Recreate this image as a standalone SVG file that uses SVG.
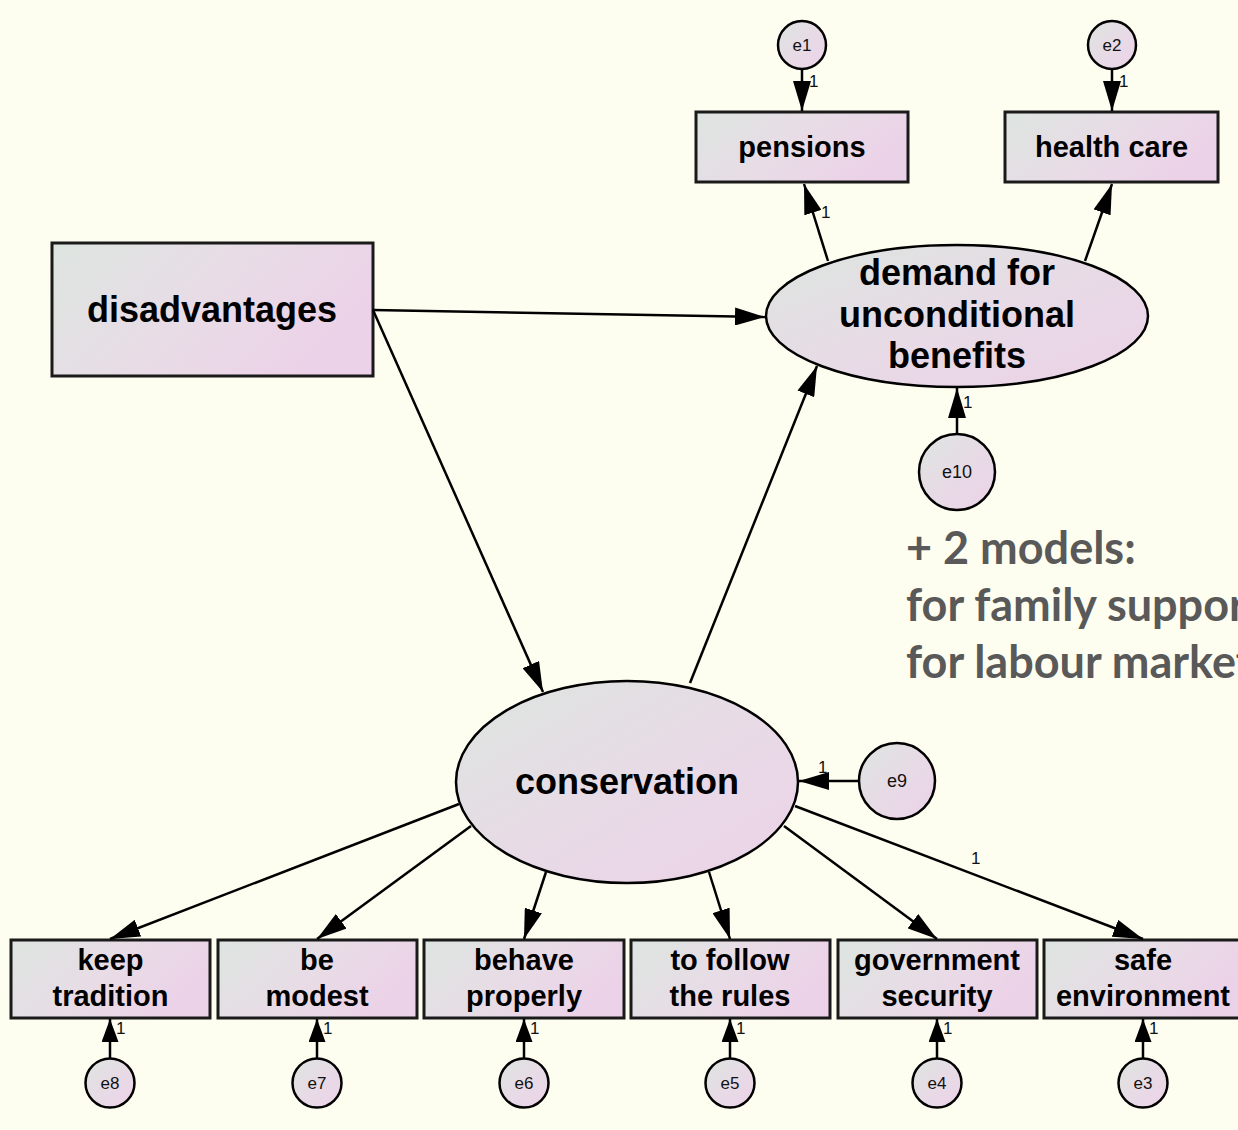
<svg xmlns="http://www.w3.org/2000/svg" width="1238" height="1130" viewBox="0 0 1238 1130">
  <style>
    .box { fill: url(#nodeFill); stroke: #1a1a1a; stroke-width: 3; }
    .lat { fill: url(#latFill); stroke: #000; stroke-width: 2.5; }
    .err { fill: url(#latFill); stroke: #000; stroke-width: 2.5; }
    .lbl { font-family: "Liberation Sans", Arial, sans-serif; font-weight: bold; fill: #000; text-anchor: middle; }
    .big { font-size: 36px; }
    .mid { font-size: 29px; }
    .elbl { font-family: "Liberation Sans", Arial, sans-serif; font-size: 17px; fill: #111; text-anchor: middle; }
    .one { font-family: "Liberation Sans", Arial, sans-serif; font-size: 17px; fill: #111; }
    .path { stroke: #000; stroke-width: 2.5; fill: none; marker-end: url(#head); }
    .short { stroke: #000; stroke-width: 2.5; fill: none; marker-end: url(#headS); }
    .note { font-family: Lato, "Open Sans", sans-serif; font-weight: bold; font-size: 45px; fill: #595959; }
  </style>
  <defs>
    <linearGradient id="nodeFill" x1="0" y1="0" x2="1" y2="0.4">
      <stop offset="0" stop-color="#DDE5E0"/>
      <stop offset="0.55" stop-color="#E8DCE6"/>
      <stop offset="1" stop-color="#ECD2E8"/>
    </linearGradient>
    <linearGradient id="latFill" x1="0" y1="0" x2="1" y2="1">
      <stop offset="0" stop-color="#DDE5E0"/>
      <stop offset="0.55" stop-color="#E8DAE6"/>
      <stop offset="1" stop-color="#ECD2E8"/>
    </linearGradient>
    <marker id="head" viewBox="0 0 30 18" refX="30" refY="9" markerWidth="30" markerHeight="18" markerUnits="userSpaceOnUse" orient="auto">
      <path d="M0,0 L30,9 L0,18 Z" fill="#000"/>
    </marker>
    <marker id="headS" viewBox="0 0 23 17" refX="23" refY="8.5" markerWidth="23" markerHeight="17" markerUnits="userSpaceOnUse" orient="auto">
      <path d="M0,0 L23,8.5 L0,17 Z" fill="#000"/>
    </marker>
  </defs>

  <rect x="0" y="0" width="1238" height="1130" fill="#FEFEF0"/>

  <!-- observed variables, top -->
  <g id="pensions">
    <rect class="box" x="696" y="112" width="212" height="70"/>
    <text class="lbl mid" x="802" y="157">pensions</text>
  </g>
  <g id="health-care">
    <rect class="box" x="1005" y="112" width="213" height="70"/>
    <text class="lbl mid" x="1111.5" y="157">health care</text>
  </g>
  <g id="e1">
    <circle class="err" cx="802" cy="45" r="24"/>
    <text class="elbl" x="802" y="51">e1</text>
  </g>
  <g id="e2">
    <circle class="err" cx="1112" cy="45" r="24"/>
    <text class="elbl" x="1112" y="51">e2</text>
  </g>

  <!-- exogenous variable -->
  <g id="disadvantages">
    <rect class="box" x="52" y="243" width="321" height="133"/>
    <text class="lbl big" x="212" y="322">disadvantages</text>
  </g>

  <!-- latent variables -->
  <g id="demand">
    <ellipse class="lat" cx="957" cy="316" rx="191" ry="71"/>
    <text class="lbl big" x="957" y="285">demand for</text>
    <text class="lbl big" x="957" y="327">unconditional</text>
    <text class="lbl big" x="957" y="368">benefits</text>
  </g>
  <g id="e10">
    <circle class="err" cx="957" cy="472" r="38"/>
    <text class="elbl" x="957" y="478" style="font-size:18px">e10</text>
  </g>
  <g id="conservation">
    <ellipse class="lat" cx="627" cy="782" rx="171" ry="101"/>
    <text class="lbl big" x="627" y="794">conservation</text>
  </g>
  <g id="e9">
    <circle class="err" cx="897" cy="781" r="38"/>
    <text class="elbl" x="897" y="787" style="font-size:18px">e9</text>
  </g>

  <!-- observed variables, bottom -->
  <g id="keep-tradition">
    <rect class="box" x="11" y="940" width="199" height="78"/>
    <text class="lbl mid" x="110.5" y="970">keep</text>
    <text class="lbl mid" x="110.5" y="1006">tradition</text>
  </g>
  <g id="be-modest">
    <rect class="box" x="218" y="940" width="199" height="78"/>
    <text class="lbl mid" x="317" y="970">be</text>
    <text class="lbl mid" x="317" y="1006">modest</text>
  </g>
  <g id="behave-properly">
    <rect class="box" x="424" y="940" width="200" height="78"/>
    <text class="lbl mid" x="524" y="970">behave</text>
    <text class="lbl mid" x="524" y="1006">properly</text>
  </g>
  <g id="follow-rules">
    <rect class="box" x="631" y="940" width="199" height="78"/>
    <text class="lbl mid" x="730" y="970">to follow</text>
    <text class="lbl mid" x="730" y="1006">the rules</text>
  </g>
  <g id="government-security">
    <rect class="box" x="838" y="940" width="199" height="78"/>
    <text class="lbl mid" x="937" y="970">government</text>
    <text class="lbl mid" x="937" y="1006">security</text>
  </g>
  <g id="safe-environment">
    <rect class="box" x="1044" y="940" width="200" height="78"/>
    <text class="lbl mid" x="1143" y="970">safe</text>
    <text class="lbl mid" x="1143" y="1006">environment</text>
  </g>
  <g id="e8"><circle class="err" cx="110" cy="1083" r="24.5"/><text class="elbl" x="110" y="1089">e8</text></g>
  <g id="e7"><circle class="err" cx="317" cy="1083" r="24.5"/><text class="elbl" x="317" y="1089">e7</text></g>
  <g id="e6"><circle class="err" cx="524" cy="1083" r="24.5"/><text class="elbl" x="524" y="1089">e6</text></g>
  <g id="e5"><circle class="err" cx="730" cy="1083" r="24.5"/><text class="elbl" x="730" y="1089">e5</text></g>
  <g id="e4"><circle class="err" cx="937" cy="1083" r="24.5"/><text class="elbl" x="937" y="1089">e4</text></g>
  <g id="e3"><circle class="err" cx="1143" cy="1083" r="24.5"/><text class="elbl" x="1143" y="1089">e3</text></g>

  <!-- paths -->
  <g id="connectors">
    <line class="path" x1="802" y1="69" x2="802" y2="111"/>
    <line class="path" x1="1112" y1="69" x2="1112" y2="111"/>
    <line class="path" x1="828" y1="261" x2="804" y2="184"/>
    <line class="path" x1="1085" y1="261" x2="1112" y2="184"/>
    <line class="path" x1="373" y1="310" x2="765" y2="317"/>
    <line class="path" x1="373" y1="310" x2="543" y2="692"/>
    <line class="path" x1="690" y1="683" x2="817" y2="366"/>
    <line class="path" x1="957" y1="434" x2="957" y2="388"/>
    <line class="path" x1="859" y1="781" x2="799" y2="781"/>
    <line class="path" x1="459" y1="804" x2="110" y2="939"/>
    <line class="path" x1="471" y1="826" x2="317" y2="939"/>
    <line class="path" x1="546" y1="872" x2="524" y2="939"/>
    <line class="path" x1="709" y1="872" x2="730" y2="939"/>
    <line class="path" x1="784" y1="826" x2="937" y2="939"/>
    <line class="path" x1="795" y1="806" x2="1143" y2="939"/>
    <line class="short" x1="110" y1="1058" x2="110" y2="1019"/>
    <line class="short" x1="317" y1="1058" x2="317" y2="1019"/>
    <line class="short" x1="524" y1="1058" x2="524" y2="1019"/>
    <line class="short" x1="730" y1="1058" x2="730" y2="1019"/>
    <line class="short" x1="937" y1="1058" x2="937" y2="1019"/>
    <line class="short" x1="1143" y1="1058" x2="1143" y2="1019"/>
  </g>

  <!-- fixed loadings -->
  <g id="weights">
    <text class="one" x="809" y="87">1</text>
    <text class="one" x="1119" y="87">1</text>
    <text class="one" x="821" y="218">1</text>
    <text class="one" x="963" y="408">1</text>
    <text class="one" x="818" y="773">1</text>
    <text class="one" x="971" y="864">1</text>
    <text class="one" x="116" y="1034">1</text>
    <text class="one" x="323" y="1034">1</text>
    <text class="one" x="530" y="1034">1</text>
    <text class="one" x="736" y="1034">1</text>
    <text class="one" x="943" y="1034">1</text>
    <text class="one" x="1149" y="1034">1</text>
  </g>

  <!-- side note, runs past the right edge -->
  <g id="note">
    <text class="note" x="906" y="564">+ 2 models:</text>
    <text class="note" x="906" y="621">for family support</text>
    <text class="note" x="906" y="678">for labour market</text>
  </g>
</svg>
